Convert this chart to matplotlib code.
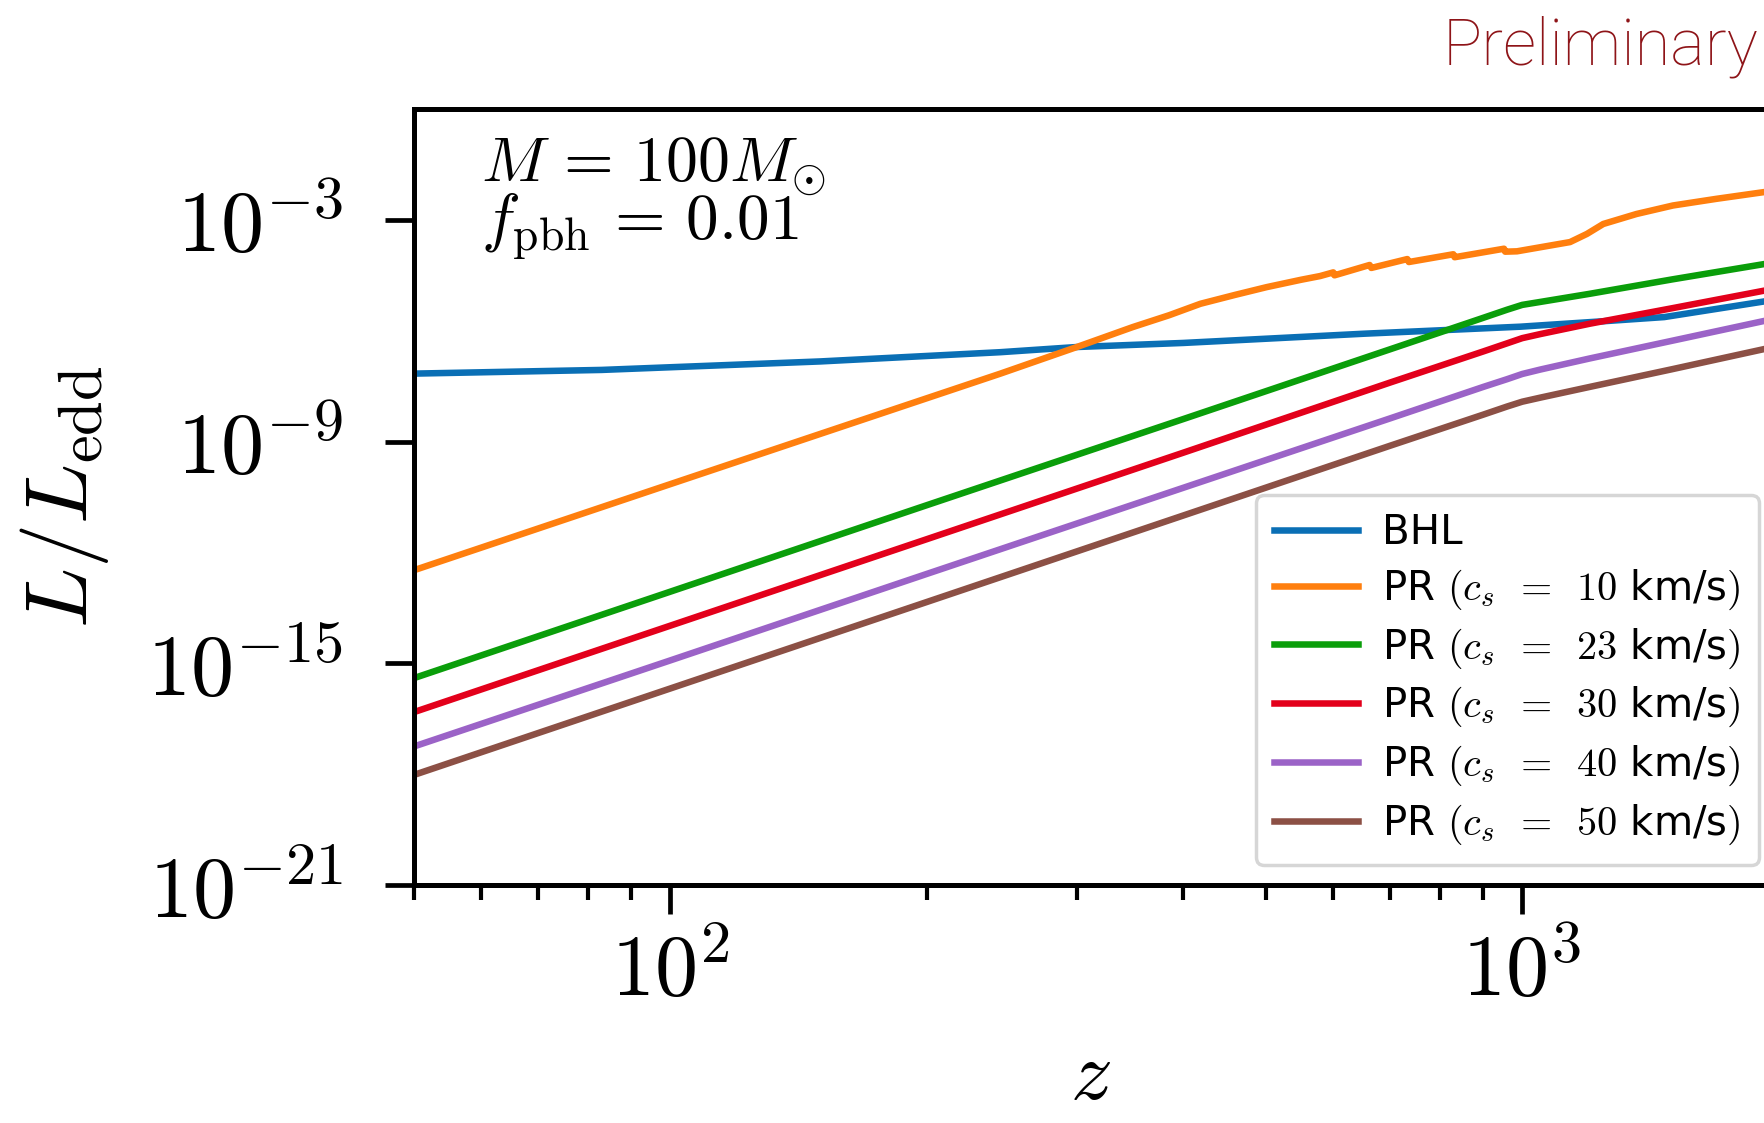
import numpy as np
import matplotlib.pyplot as plt
from matplotlib.ticker import FixedLocator, NullLocator, NullFormatter

plt.rcParams['mathtext.fontset'] = 'cm'

# values (log10 of L/L_edd)
z_bhl = [50, 83, 150, 244, 300, 400, 652, 995, 1250, 1468, 1700, 1919, 2000]
logL_bhl = [-7.16, -7.06, -6.83, -6.58, -6.44, -6.33, -6.08, -5.89, -5.74, -5.63, -5.40, -5.21, -5.14]

z_pr10 = [50, 100, 150, 244, 300, 349, 385, 419, 460, 501, 550, 579, 600, 602,
          662, 665, 733, 736, 830, 833, 952, 955, 986, 1138, 1191, 1245, 1362,
          1503, 1690, 1919, 2000]
logL_pr10 = [-12.48, -10.15, -8.79, -7.16, -6.44, -5.90, -5.58, -5.27, -5.03, -4.82,
             -4.62, -4.52, -4.42, -4.50, -4.22, -4.30, -4.06, -4.14, -3.93, -4.01,
             -3.78, -3.86, -3.85, -3.60, -3.38, -3.11, -2.84, -2.61, -2.43, -2.25, -2.19]

z_pr = [50, 100, 200, 400, 700, 900, 960, 1000, 1050, 1200, 1500, 2000]
logL_pr23 = [-15.40, -13.06, -10.72, -8.39, -6.50, -5.65, -5.43, -5.30, -5.22, -5.00, -4.61, -4.13]
logL_pr30 = [-16.32, -13.98, -11.64, -9.30, -7.40, -6.56, -6.34, -6.20, -6.09, -5.81, -5.39, -4.84]
logL_pr40 = [-17.25, -14.92, -12.58, -10.25, -8.37, -7.52, -7.31, -7.17, -7.05, -6.75, -6.27, -5.65]
logL_pr50 = [-18.02, -15.68, -13.34, -11.00, -9.11, -8.27, -8.05, -7.92, -7.81, -7.52, -7.04, -6.41]

labels = ['BHL',
          r'PR $(c_s\enspace=\enspace10$ km/s$)$',
          r'PR $(c_s\enspace=\enspace23$ km/s$)$',
          r'PR $(c_s\enspace=\enspace30$ km/s$)$',
          r'PR $(c_s\enspace=\enspace40$ km/s$)$',
          r'PR $(c_s\enspace=\enspace50$ km/s$)$']
colors = ['#0a6fb5', '#ff7f0e', '#0a9e0a', '#e3001b', '#9b63c7', '#8c5045']

ytick_vals = [1e-21, 1e-15, 1e-9, 1e-3]
ytick_labels = [r'$10^{-21}$', r'$10^{-15}$', r'$10^{-9}$', r'$10^{-3}$']
xtick_vals = [100, 1000]
xtick_labels = [r'$10^{2}$', r'$10^{3}$']
x_minor = [50, 60, 70, 80, 90, 200, 300, 400, 500, 600, 700, 800, 900, 2000]


def main():
    fig = plt.figure(figsize=(17.64, 11.23), dpi=100)
    # axes runs a little past the right edge, as in the cropped original
    ax = fig.add_axes([0.2347, 0.2119, 0.7736, 0.691])

    series = [(z_bhl, logL_bhl), (z_pr10, logL_pr10), (z_pr, logL_pr23),
              (z_pr, logL_pr30), (z_pr, logL_pr40), (z_pr, logL_pr50)]
    for (z, logL), lab, c in zip(series, labels, colors):
        ax.plot(z, 10.0 ** np.array(logL), color=c, lw=4.7, label=lab)

    ax.set_xscale('log')
    ax.set_yscale('log')
    ax.set_xlim(50, 2000)
    ax.set_ylim(1e-21, 1)

    ax.set_yticks(ytick_vals, ytick_labels)
    ax.yaxis.set_minor_locator(NullLocator())
    ax.set_xticks(xtick_vals, xtick_labels)
    ax.xaxis.set_minor_locator(FixedLocator(x_minor))
    ax.xaxis.set_minor_formatter(NullFormatter())

    for s in ax.spines.values():
        s.set_linewidth(3.6)
    ax.tick_params(which='major', length=21, width=3.4, labelsize=62)
    ax.tick_params(which='minor', length=10.5, width=3.0)
    ax.tick_params(axis='x', which='major', pad=12)
    ax.tick_params(axis='y', which='major', pad=30)

    ax.set_xlabel(r'$z$', fontsize=60, va='baseline')
    ax.xaxis.set_label_coords(0.496, -0.276)
    ax.set_ylabel(r'$L/L_{\rm edd}$', fontsize=64)
    ax.yaxis.set_label_coords(-0.222, 0.5)

    ax.text(0.049, 0.906, r'$M\,=\,100M_{\odot}$', transform=ax.transAxes,
            fontsize=46, va='baseline')
    ax.text(0.049, 0.831, r'$f_{\rm pbh}\,=\,0.01$', transform=ax.transAxes,
            fontsize=47, va='baseline')

    leg = ax.legend(loc='lower right', bbox_to_anchor=(0.9972, 0.2297),
                    bbox_transform=fig.transFigure, borderaxespad=0,
                    fontsize=29, handlelength=2.1, handletextpad=0.6,
                    labelspacing=0.36, borderpad=0.45)
    leg.get_frame().set_linewidth(2.5)
    leg.get_frame().set_edgecolor('0.8')

    fig.text(0.997, 1 - 64 / 1123, 'Preliminary', ha='right', va='baseline',
             fontsize=47, color='#8e1418', family='Roboto', fontweight='light')

    fig.savefig('out.png', dpi=100)


if __name__ == '__main__':
    main()
